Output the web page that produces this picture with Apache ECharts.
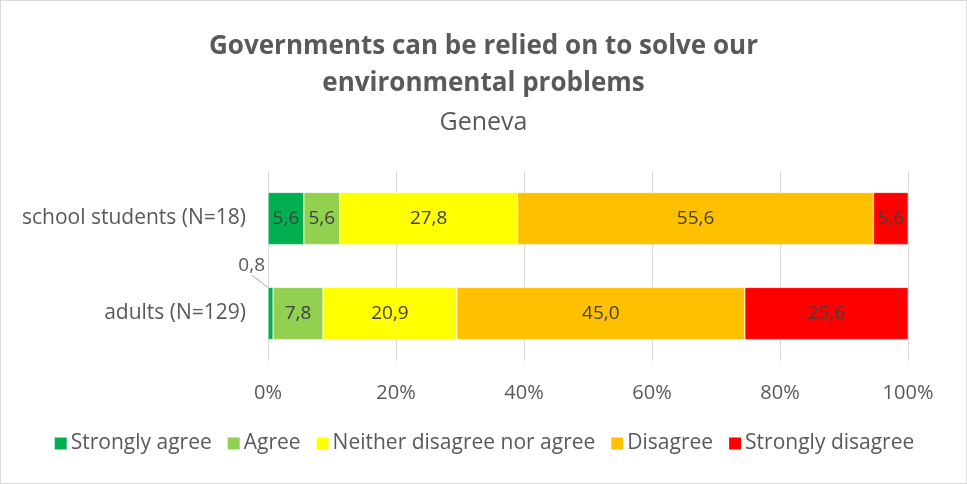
<!DOCTYPE html>
<html>
<head>
<meta charset="utf-8">
<script src="https://cdn.jsdelivr.net/npm/echarts@6/dist/echarts.min.js"></script>
<style>
  html, body { margin: 0; padding: 0; background: #fff; }
  #chart { width: 965px; height: 482px; border: 1px solid #d9d9d9; }
</style>
</head>
<body>
<div id="chart"></div>
<script>
var categories = ['adults (N=129)', 'school students (N=18)'];
var seriesNames = ['Strongly agree', 'Agree', 'Neither disagree nor agree', 'Disagree', 'Strongly disagree'];
var stronglyAgree = [0.8, 5.6];
var agree = [7.8, 5.6];
var neither = [20.9, 27.8];
var disagree = [45.0, 55.6];
var stronglyDisagree = [25.6, 5.6];
var colors = ['#00B050', '#92D050', '#FFFF00', '#FFC000', '#FF0000'];

var font = 'Open Sans, sans-serif';

function fmt(v) {
    return v.toFixed(1).replace('.', ',');
}

var allData = [stronglyAgree, agree, neither, disagree, stronglyDisagree];

var series = allData.map(function (d, i) {
    return {
        name: seriesNames[i],
        type: 'bar',
        stack: 'total',
        barWidth: '55%',
        itemStyle: { color: colors[i], borderColor: '#fff', borderWidth: 0.5 },
        label: {
            show: true,
            position: 'inside',
            color: '#404040',
            fontFamily: font,
            fontSize: 19,
            formatter: function (p) { return fmt(p.value); }
        },
        data: d.map(function (v, j) {
            // the tiny 0,8 slice gets its label pulled outside with a leader line
            if (v < 2) {
                return {
                    value: v,
                    label: { position: 'left', color: '#595959' },
                    labelLine: { show: true, lineStyle: { color: '#a6a6a6', width: 1 } }
                };
            }
            return v;
        }),
        labelLayout: function (params) {
            if (params.rect.width < 10) {
                return { dx: 2, dy: -48 };
            }
            return {};
        }
    };
});

var chart = echarts.init(document.getElementById('chart'));
chart.setOption({
    animation: false,
    title: {
        text: 'Governments can be relied on to solve our\nenvironmental problems',
        subtext: 'Geneva',
        left: 'center',
        top: 22,
        itemGap: 8,
        textStyle: { fontFamily: font, fontSize: 26, fontWeight: 'bold', color: '#595959', lineHeight: 37 },
        subtextStyle: { fontFamily: font, fontSize: 25, color: '#595959' }
    },
    legend: {
        bottom: 24,
        left: 'center',
        itemWidth: 14,
        itemHeight: 14,
        itemGap: 14,
        icon: 'rect',
        textStyle: { fontFamily: font, fontSize: 21, color: '#595959', padding: [0, 0, 0, -2] },
        data: seriesNames
    },
    grid: { left: 267, right: 58, top: 170, bottom: 122 },
    xAxis: {
        type: 'value',
        min: 0,
        max: 100,
        interval: 20,
        axisLabel: {
            fontFamily: font, fontSize: 20, color: '#595959', margin: 22,
            formatter: function (v) { return v + '%'; }
        },
        splitLine: { lineStyle: { color: '#d9d9d9', width: 1 } },
        axisLine: { show: false },
        axisTick: { show: false }
    },
    yAxis: {
        type: 'category',
        data: categories,
        axisLabel: { fontFamily: font, fontSize: 21, color: '#595959', margin: 22 },
        axisLine: { show: false },
        axisTick: { show: false }
    },
    series: series
});
</script>
</body>
</html>
